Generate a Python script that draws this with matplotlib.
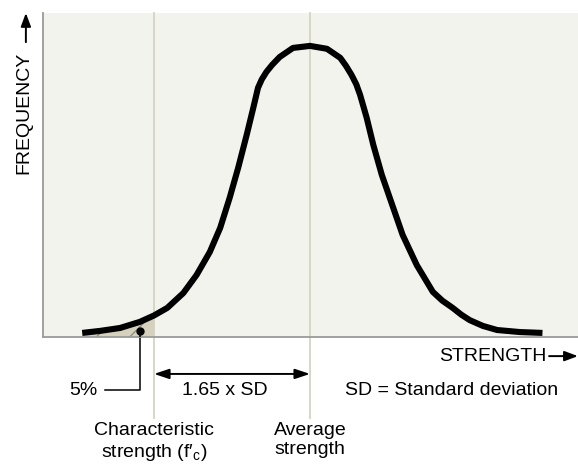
import numpy as np
import matplotlib
matplotlib.use('Agg')
import matplotlib.pyplot as plt

# strength in SD units relative to the mean, frequency relative to the peak
strength = [-2.41, -2.22, -2.01, -1.80, -1.65, -1.51, -1.34, -1.20, -1.06, -0.95,
            -0.85, -0.76, -0.67, -0.60, -0.55, -0.51, -0.46, -0.40, -0.32, -0.18,
            0.00, 0.18, 0.32, 0.38, 0.44, 0.49, 0.53, 0.60, 0.67, 0.76, 0.87, 0.98,
            1.13, 1.30, 1.40, 1.51, 1.60, 1.69, 1.83, 1.98, 2.22, 2.46]
frequency = [0.014, 0.021, 0.031, 0.052, 0.074, 0.100, 0.151, 0.213, 0.292, 0.375,
             0.478, 0.581, 0.694, 0.787, 0.856, 0.885, 0.911, 0.935, 0.962, 0.993,
             1.000, 0.990, 0.959, 0.932, 0.900, 0.868, 0.832, 0.753, 0.660, 0.557, 0.454, 0.351,
             0.247, 0.155, 0.125, 0.100, 0.077, 0.058, 0.038, 0.024, 0.017, 0.014]
char_strength = -1.65
mean_strength = 0.0
dot_point = (-1.80, 0.02)

plt.rcParams['font.family'] = ['Liberation Sans', 'DejaVu Sans']
plt.rcParams['mathtext.fontset'] = 'custom'
plt.rcParams['mathtext.rm'] = 'Liberation Sans'
plt.rcParams['hatch.color'] = '#8c8a7c'
plt.rcParams['hatch.linewidth'] = 0.9
FS = 14

fig = plt.figure(figsize=(5.78, 4.69), dpi=100)
W, H = 578, 469
ax = fig.add_axes([43 / W, (H - 337) / H, (W - 43) / W, (337 - 13) / H])
ax.set_facecolor('#f3f3ee')
ax.set_xlim(-2.825, 2.836)
ax.set_ylim(0, 1.113)
ax.set_xticks([])
ax.set_yticks([])
for s in ['top', 'right']:
    ax.spines[s].set_visible(False)
for s in ['left', 'bottom']:
    ax.spines[s].set_color('#9a9a9a')
    ax.spines[s].set_linewidth(1.3)

x = np.array(strength)
y = np.array(frequency)

# shaded lower tail
m = x <= char_strength + 1e-9
ax.fill_between(x[m], 0, y[m], facecolor='#d6d1bc', edgecolor='#8c8a7c',
                hatch='/', linewidth=0, zorder=2)

# reference lines (extend below the axes)
xa = ax.get_xaxis_transform()
for xv in [char_strength, mean_strength]:
    ax.plot([xv, xv], [1.0, -0.25], transform=xa, color='#d6d3c3', lw=1.3,
            clip_on=False, zorder=1)

ax.plot(x, y, color='black', lw=4.4, solid_capstyle='butt',
        solid_joinstyle='round', zorder=4)

# 5% marker and leader
ax.plot(*dot_point, 'o', color='black', ms=5, zorder=5)
ax.plot([dot_point[0], dot_point[0]], [dot_point[1], 0], color='black', lw=1.1, zorder=5)
ax.plot([dot_point[0], dot_point[0], -2.17], [0, -0.164, -0.164], transform=xa,
        color='black', lw=1.1, clip_on=False)
ax.text(-2.25, -0.164, '5%', transform=xa, ha='right', va='center', fontsize=FS)

# 1.65 x SD double arrow
ax.annotate('', xy=(char_strength, -0.114), xytext=(mean_strength, -0.114),
            xycoords=xa, textcoords=xa, annotation_clip=False,
            arrowprops=dict(arrowstyle='<|-|>,head_length=0.9,head_width=0.3',
                            color='black', lw=1.4, shrinkA=0, shrinkB=0))
ax.text((char_strength + mean_strength) / 2 - 0.08, -0.164, '1.65 x SD', transform=xa,
        ha='center', va='center', fontsize=FS)

ax.text(1.50, -0.164, 'SD = Standard deviation', transform=xa,
        ha='center', va='center', fontsize=FS)

# axis labels with arrows
ax.text(2.50, -0.059, 'STRENGTH', transform=xa, ha='right', va='center', fontsize=FS)
ax.annotate('', xy=(2.835, -0.059), xytext=(2.53, -0.059), xycoords=xa, textcoords=xa,
            annotation_clip=False,
            arrowprops=dict(arrowstyle='-|>,head_length=0.8,head_width=0.3',
                            color='black', lw=1.4, shrinkA=0, shrinkB=0))

ya = ax.transAxes
ax.text(-0.036, 0.88, 'FREQUENCY', transform=ya, rotation=90, ha='center',
        va='top', fontsize=FS)
ax.annotate('', xy=(-0.032, 1.0), xytext=(-0.032, 0.91), xycoords=ya, textcoords=ya,
            annotation_clip=False,
            arrowprops=dict(arrowstyle='-|>,head_length=0.8,head_width=0.3',
                            color='black', lw=1.4, shrinkA=0, shrinkB=0))

# bottom labels
ax.text(char_strength, -0.262, 'Characteristic\nstrength (f\u2032$_\\mathregular{c}$)',
        transform=xa, ha='center', va='top', fontsize=FS, linespacing=1.2)
ax.text(mean_strength, -0.262, 'Average\nstrength', transform=xa,
        ha='center', va='top', fontsize=FS, linespacing=1.2)

fig.savefig('out.png', dpi=100)
